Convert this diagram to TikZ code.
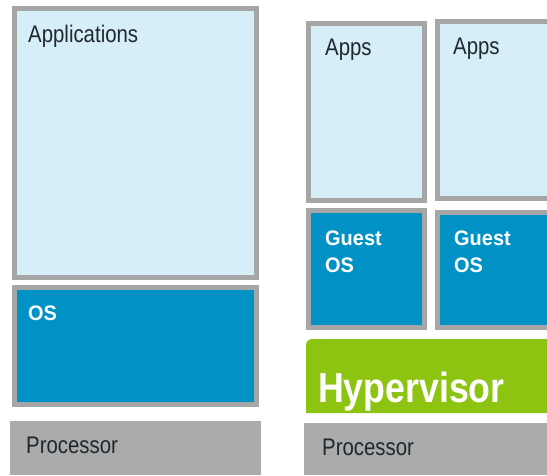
\documentclass[tikz,border=0pt]{standalone}
\usepackage{fontspec}
\setmainfont{Liberation Sans}[FakeStretch=0.85]
\newfontfamily\guestfont{Liberation Sans}[FakeStretch=0.95]

\definecolor{appblue}{RGB}{214,238,248}
\definecolor{osblue}{RGB}{0,146,196}
\definecolor{frame}{RGB}{166,166,166}
\definecolor{cpugray}{RGB}{171,171,171}
\definecolor{hvgreen}{RGB}{141,196,18}
\definecolor{ink}{RGB}{30,40,46}

\begin{document}
\begin{tikzpicture}[x=1pt, y=-1pt,
    layer/.style={draw=frame, line width=5pt},
    lbl/.style={anchor=base west, inner sep=0pt, text=ink,
                font=\fontsize{24}{24}\selectfont},
    oslbl/.style={anchor=base west, inner sep=0pt, text=white,
                  font=\guestfont\bfseries\fontsize{21}{27}\selectfont, align=left}]

    \useasboundingbox (0,0) rectangle (547,475);
    \clip (0,0) rectangle (547,475);

    % ---- Native stack (left) ----
    \draw[layer, fill=appblue] (14.5,8.5) rectangle (256.5,277.5);
    \node[lbl] (apps) at (28,42) {Applications};

    \draw[layer, fill=osblue] (14.5,287.5) rectangle (256.5,404.5);
    \node[oslbl] (os) at (28,320) {OS};

    \fill[cpugray] (10,421) rectangle (261,475);
    \node[lbl] (cpu) at (26,453) {Processor};

    % ---- Virtualized stack (right) ----
    % Guest 1 (base anchor sits on the last line)
    \draw[layer, fill=appblue] (308.5,23.5) rectangle (424.5,200.5);
    \node[lbl] (appsa) at (325,55) {Apps};
    \draw[layer, fill=osblue] (308.5,210.5) rectangle (424.5,327.5);
    \node[oslbl] (guesta) at (325,272) {Guest\\OS};

    % Guest 2 (runs off the edge)
    \draw[layer, fill=appblue] (437.5,21.5) rectangle (560,198.5);
    \node[lbl] (appsb) at (453,54) {Apps};
    \draw[layer, fill=osblue] (437.5,212.5) rectangle (560,327.5);
    \node[oslbl] (guestb) at (454,272) {Guest\\OS};

    % Hypervisor, rounded only at the top left
    \fill[hvgreen] (306,413) -- (306,345) arc[start angle=180, end angle=270, radius=6]
        -- (560,339) -- (560,413) -- cycle;
    \node[anchor=base west, inner sep=0pt, text=white,
          font=\bfseries\fontsize{42}{42}\selectfont] (hyp) at (318,402) {Hypervisor};

    \fill[cpugray] (304,423) rectangle (560,475);
    \node[lbl] (cpub) at (322,455) {Processor};

\end{tikzpicture}
\end{document}
